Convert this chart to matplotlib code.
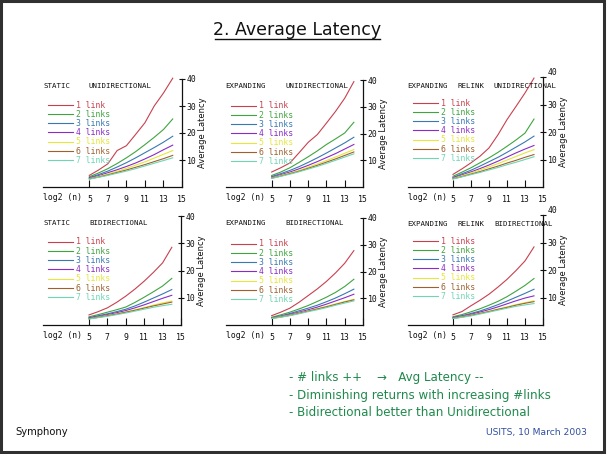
import matplotlib
matplotlib.use("Agg")
import matplotlib.pyplot as plt
from matplotlib.patches import Rectangle
from matplotlib.lines import Line2D

W, H = 609, 454

# ---------------- data ----------------
x_log2n = [5, 6, 7, 8, 9, 10, 11, 12, 13, 14]

link_labels = ["1 link", "2 links", "3 links", "4 links", "5 links", "6 links", "7 links"]
link_labels_last = ["1 links", "2 links", "3 links", "4 links", "5 links", "6 links", "7 links"]
link_colors = ["#c8404f", "#3fa53f", "#3a78b4", "#8a2cc8", "#e6e63c", "#a0602e", "#6ed6b2"]

static_uni = [
    [4.3, 6.3, 8.6, 13.5, 15.3, 19.5, 23.8, 30.0, 34.8, 40.3],
    [3.8, 5.2, 6.8, 8.7, 10.8, 13.1, 15.7, 18.4, 21.3, 25.2],
    [3.5, 4.6, 5.9, 7.4, 9.0, 10.8, 12.7, 14.6, 16.6, 18.8],
    [3.3, 4.2, 5.3, 6.4, 7.6, 8.9, 10.4, 12.0, 13.8, 15.5],
    [3.1, 3.9, 4.8, 5.8, 6.9, 8.1, 9.3, 10.7, 12.1, 13.5],
    [3.0, 3.7, 4.5, 5.4, 6.3, 7.3, 8.3, 9.4, 10.5, 11.7],
    [2.9, 3.6, 4.3, 5.1, 5.9, 6.8, 7.8, 8.8, 9.8, 10.8],
]
expanding_uni = [
    [5.6, 7.2, 9.0, 12.8, 16.7, 19.6, 23.9, 28.3, 33.2, 39.4],
    [4.3, 5.6, 7.2, 9.2, 11.3, 13.5, 15.9, 18.0, 20.2, 24.2],
    [3.9, 5.0, 6.2, 7.6, 9.2, 10.9, 12.7, 14.6, 16.5, 18.6],
    [3.6, 4.6, 5.6, 6.8, 8.1, 9.5, 11.0, 12.5, 14.2, 15.9],
    [3.4, 4.3, 5.2, 6.2, 7.4, 8.6, 9.9, 11.2, 12.6, 14.0],
    [3.3, 4.1, 5.0, 5.9, 7.0, 8.1, 9.3, 10.5, 11.8, 13.1],
    [3.2, 4.0, 4.8, 5.7, 6.7, 7.7, 8.8, 10.0, 11.2, 12.4],
]
relink_uni = [
    [4.6, 6.6, 8.8, 11.2, 14.2, 19.0, 24.5, 29.3, 34.2, 39.6],
    [3.9, 5.4, 7.0, 8.8, 10.6, 12.6, 14.8, 17.1, 19.6, 24.7],
    [3.5, 4.8, 6.1, 7.6, 9.2, 10.8, 12.6, 14.5, 16.4, 18.5],
    [3.3, 4.4, 5.5, 6.7, 8.0, 9.4, 10.9, 12.4, 13.8, 15.1],
    [3.1, 4.1, 5.1, 6.2, 7.3, 8.5, 9.8, 11.1, 12.4, 13.6],
    [3.0, 3.8, 4.7, 5.6, 6.6, 7.6, 8.7, 9.7, 10.8, 11.8],
    [2.9, 3.7, 4.5, 5.3, 6.2, 7.1, 8.1, 9.0, 10.0, 11.0],
]
static_bi = [
    [3.7, 4.9, 6.3, 8.3, 10.6, 13.2, 16.1, 19.3, 22.8, 28.5],
    [3.0, 3.8, 4.7, 5.6, 6.6, 8.3, 10.2, 12.2, 14.3, 17.1],
    [2.7, 3.4, 4.1, 4.9, 5.8, 7.0, 8.4, 9.9, 11.4, 13.0],
    [2.5, 3.1, 3.8, 4.5, 5.3, 6.3, 7.4, 8.6, 9.8, 10.9],
    [2.3, 2.9, 3.5, 4.1, 4.8, 5.6, 6.4, 7.3, 8.1, 8.8],
    [2.3, 2.8, 3.4, 4.0, 4.7, 5.4, 6.2, 7.0, 7.7, 8.4],
    [2.2, 2.7, 3.2, 3.8, 4.4, 5.1, 5.8, 6.5, 7.1, 7.6],
]
expanding_bi = [
    [3.5, 4.8, 6.3, 8.5, 11.0, 13.5, 16.3, 19.5, 23.1, 27.8],
    [2.9, 3.8, 4.8, 6.0, 7.3, 8.8, 10.4, 12.2, 14.4, 17.1],
    [2.7, 3.4, 4.3, 5.3, 6.3, 7.4, 8.7, 10.1, 11.7, 13.4],
    [2.6, 3.2, 4.0, 4.8, 5.7, 6.7, 7.8, 9.0, 10.2, 11.5],
    [2.5, 3.1, 3.7, 4.5, 5.3, 6.1, 7.0, 7.9, 8.8, 9.6],
    [2.5, 3.0, 3.6, 4.4, 5.2, 6.0, 6.8, 7.7, 8.6, 9.4],
    [2.4, 2.9, 3.5, 4.2, 5.0, 5.7, 6.5, 7.4, 8.2, 9.0],
]
relink_bi = [
    [3.7, 4.9, 7.0, 9.0, 11.2, 13.8, 16.6, 19.8, 23.3, 28.4],
    [3.0, 3.8, 4.8, 5.9, 7.2, 8.6, 10.3, 12.3, 14.4, 16.9],
    [2.8, 3.4, 4.2, 5.1, 6.2, 7.4, 8.7, 10.1, 11.5, 13.0],
    [2.6, 3.2, 3.9, 4.7, 5.6, 6.6, 7.7, 8.8, 9.8, 10.6],
    [2.4, 3.0, 3.6, 4.3, 5.0, 5.8, 6.6, 7.4, 8.1, 8.8],
    [2.4, 2.9, 3.5, 4.2, 4.9, 5.7, 6.4, 7.2, 7.9, 8.5],
    [2.3, 2.8, 3.3, 4.0, 4.7, 5.4, 6.1, 6.8, 7.3, 7.8],
]

x_ticks = [5, 7, 9, 11, 13, 15]
y_ticks = [10, 20, 30, 40]

panel_titles = [
    ["STATIC", "UNIDIRECTIONAL"],
    ["EXPANDING", "UNIDIRECTIONAL"],
    ["EXPANDING", "RELINK", "UNIDIRECTIONAL"],
    ["STATIC", "BIDIRECTIONAL"],
    ["EXPANDING", "BIDIRECTIONAL"],
    ["EXPANDING", "RELINK", "BIDIRECTIONAL"],
]
panel_data = [static_uni, expanding_uni, relink_uni, static_bi, expanding_bi, relink_bi]
panel_labels = [link_labels] * 5 + [link_labels_last]

slide_title = "2. Average Latency"
bullets = ["- # links ++    \u2192   Avg Latency --",
           "- Diminishing returns with increasing #links",
           "- Bidirectional better than Unidirectional"]
footer_left = "Symphony"
footer_right = "USITS, 10 March 2003"

# ---------------- layout (pixels) ----------------
# left, right, top(y=40), bottom(y=0)
panel_px = [
    (43, 182, 79, 187),
    (226, 363, 80, 187),
    (408, 543, 77, 187),
    (43, 181, 216, 325),
    (226, 363, 218, 325),
    (408, 543, 215, 325),
]
title_word_x = [
    [43, 89], [225, 285], [407, 457, 494],
    [43, 89], [225, 285], [407, 457, 494],
]
header_y = [85.5, 85.5, 86, 223, 223, 223.5]

fig = plt.figure(figsize=(W / 100, H / 100), dpi=100)
fig.patch.set_facecolor("white")

mono = "DejaVu Sans Mono"
fs = 5.3

def fx(px):
    return px / W

def fy(py):
    return 1 - py / H

for i, (l, r, t, b) in enumerate(panel_px):
    ax = fig.add_axes([fx(l), fy(b), fx(r) - fx(l), (b - t) / H])
    ax.set_xlim(0, 15)
    ax.set_ylim(0, 40)
    for k, ys in enumerate(panel_data[i]):
        ax.plot(x_log2n, ys, color=link_colors[k], lw=0.8,
                label=panel_labels[i][k], clip_on=False)
    for s in ["left", "top"]:
        ax.spines[s].set_visible(False)
    for s in ["right", "bottom"]:
        ax.spines[s].set_linewidth(0.9)
        ax.spines[s].set_color("#111111")
    ax.yaxis.tick_right()
    ax.yaxis.set_label_position("right")
    ax.set_xticks(x_ticks)
    ax.set_yticks(y_ticks)
    ax.tick_params(axis="x", direction="in", length=5, width=0.8, pad=6,
                   labelsize=fs + 0.6, colors="#111111")
    ax.tick_params(axis="y", direction="inout", length=5, width=0.8, pad=1,
                   labelsize=fs + 0.6, colors="#111111")
    for lab in ax.get_xticklabels() + ax.get_yticklabels():
        lab.set_family(mono)
    if i in (2, 5):
        # top tick label sits slightly higher above the header, as in the slide
        ax.get_yticklabels()[-1].set_va("bottom")
    ax.set_ylabel("Average Latency", fontsize=fs + 0.7, labelpad=1,
                  family="DejaVu Sans", color="#111111")
    ax.patch.set_alpha(0)
    hy = header_y[i]
    for word, wx in zip(panel_titles[i], title_word_x[i]):
        fig.text(fx(wx), fy(hy), word, fontsize=fs, family=mono,
                 ha="left", va="center", color="#111111")
    fig.text(fx(l), fy(b + 10.5), "log2 (n)", fontsize=fs + 0.6, family=mono,
             ha="left", va="center", color="#111111")
    hpx = b - t
    ax.legend(loc="upper left", frameon=False, prop={"family": mono, "size": fs + 0.6},
              labelcolor="linecolor", handlelength=3.1, handletextpad=0.35,
              labelspacing=0.03, borderpad=0, borderaxespad=0,
              bbox_to_anchor=(5.0 / (r - l), 1 - 21.5 / hpx))

fig.text(fx(297), fy(30), slide_title, fontsize=12.5, family="DejaVu Sans",
         ha="center", va="center", color="#111111")
fig.add_artist(Line2D([fx(215), fx(380)], [fy(38.5), fy(38.5)], color="#111111", lw=1.0))

for j, txt in enumerate(bullets):
    fig.text(fx(289), fy(378 + j * 17.5), txt, fontsize=8.6, family="DejaVu Sans",
             ha="left", va="center", color="#1f8a4c")

fig.text(fx(15), fy(432), footer_left, fontsize=7.2, family="DejaVu Sans",
         ha="left", va="center", color="#111111")
fig.text(fx(587), fy(432), footer_right, fontsize=6.6, family="DejaVu Sans",
         ha="right", va="center", color="#2f4da0")

fig.add_artist(Rectangle((fx(1.3), fy(452)), fx(604.5) - fx(1.3), fy(1.3) - fy(452),
                         fill=False, edgecolor="#303030", lw=2.2))

fig.savefig("out.png", dpi=100, facecolor="white")
